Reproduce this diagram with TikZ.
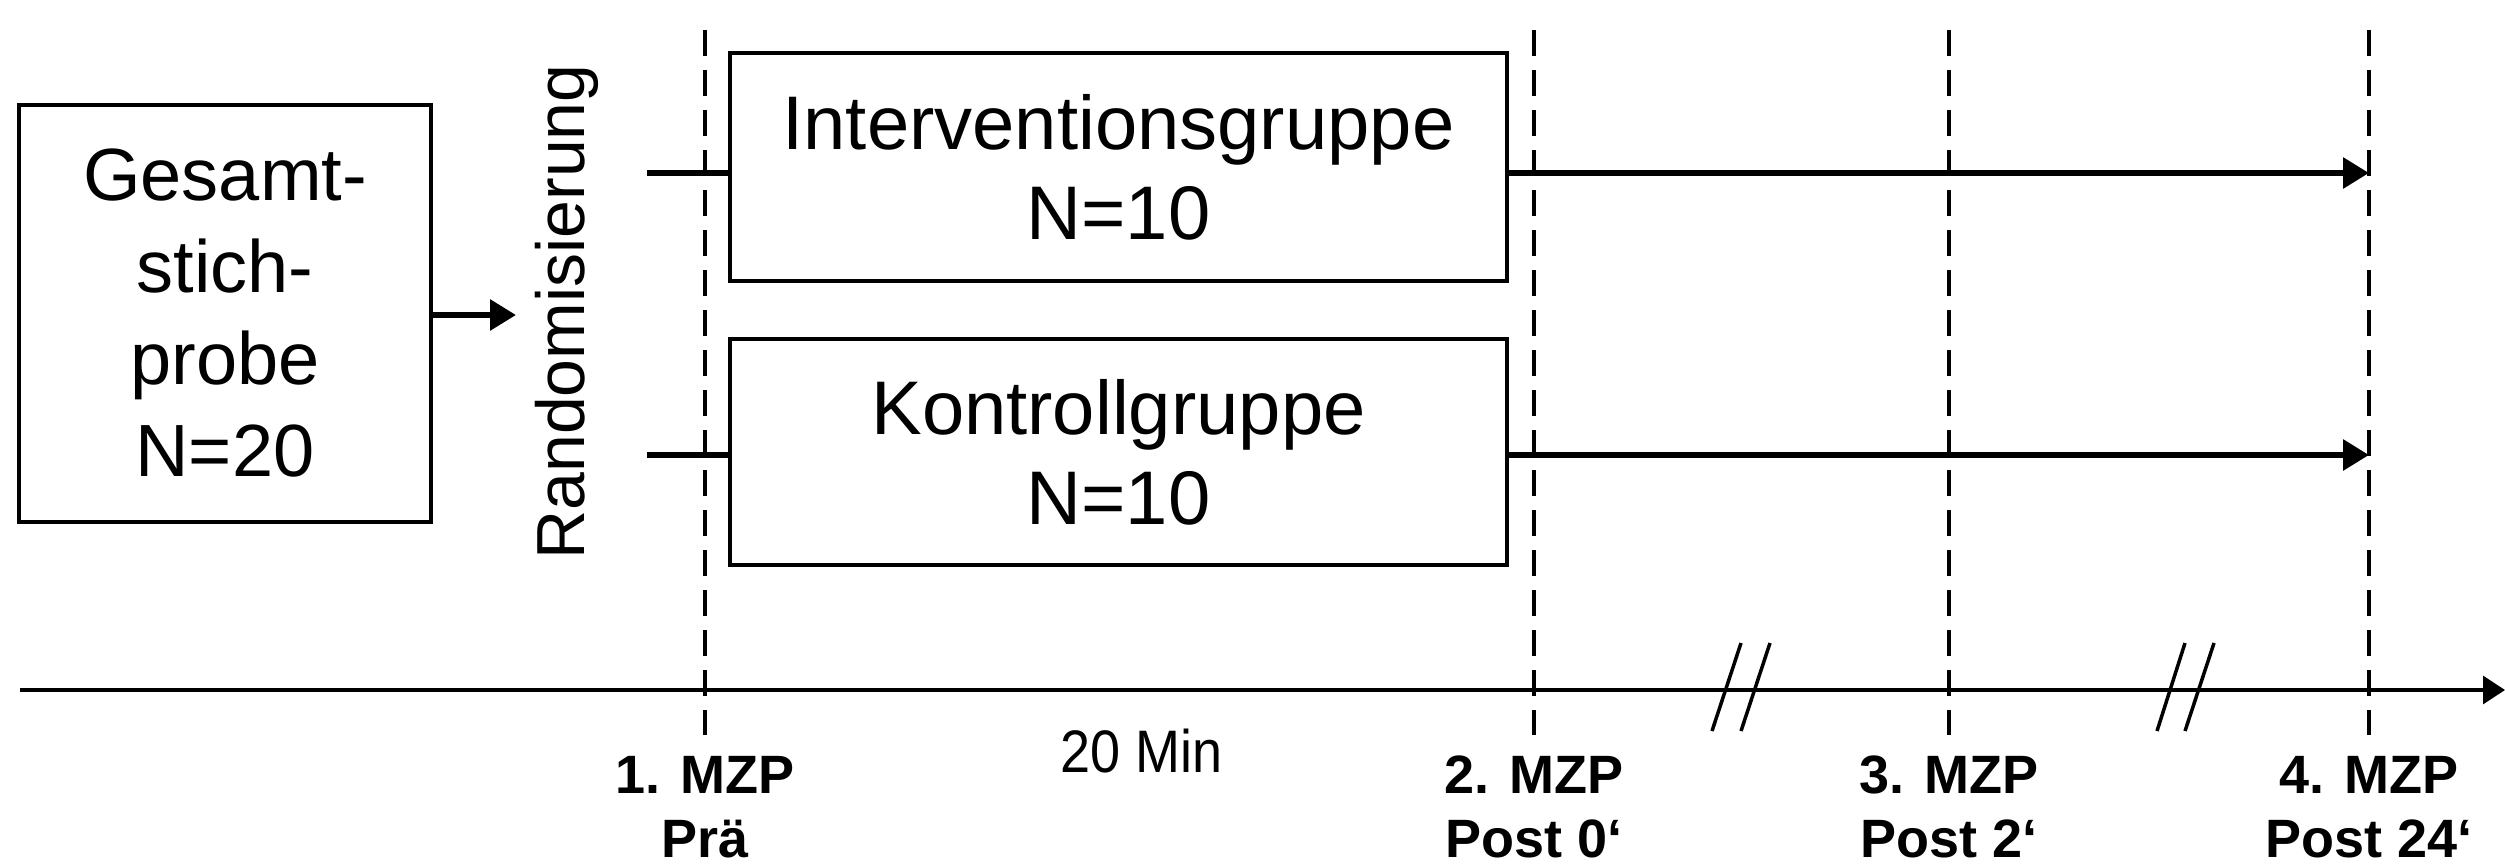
\documentclass[tikz,border=0pt]{standalone}
\usepackage{fontspec}
\setmainfont{Liberation Sans}
\usetikzlibrary{arrows.meta}
\begin{document}
\begin{tikzpicture}[x=1pt,y=-1pt,
  box/.style={draw,line width=3.2pt,inner sep=0pt,align=center},
  boxtext/.style={font=\fontsize{74}{92}\selectfont},
  grouptext/.style={font=\fontsize{76}{90}\selectfont},
  mzp/.style={font=\fontsize{54}{64}\selectfont\bfseries,align=center,inner sep=0pt},
  vline/.style={line width=3.2pt,dash pattern=on 26pt off 14pt},
  flow/.style={line width=6pt,-{Triangle[length=26pt,width=30pt]}},
  stub/.style={line width=6pt},
  axisline/.style={line width=3.2pt,-{Triangle[length=22pt,width=28pt]}},
  brk/.style={line width=3.5pt}]
\useasboundingbox (0,0) rectangle (2505,864);
% boxes
\node[box,boxtext,minimum width=412pt,minimum height=417pt] (gesamt) at (225,313.5) {Gesamt-\\stich-\\probe\\N=20};
\node[box,grouptext,minimum width=777pt,minimum height=228pt] (int) at (1118.5,167) {Interventionsgruppe\\N=10};
\node[box,grouptext,minimum width=777pt,minimum height=226pt] (kon) at (1118.5,452) {Kontrollgruppe\\N=10};
\node[rotate=90,font=\fontsize{68}{80}\selectfont,inner sep=0pt] (rand) at (567,312) {Randomisierung};
% dashed time lines
\foreach \n/\x in {d1/705,d2/1534,d3/1949,d4/2369}{
  \coordinate (\n t) at (\x,30);
  \coordinate (\n b) at (\x,735);
  \draw[vline] (\n t) -- (\n b);
}
% arrow from sample
\coordinate (ra) at (516,315);
\draw[flow] (gesamt.east |- ra) -- (ra);
% stubs and flows
\coordinate (s1) at (647,173);
\coordinate (s2) at (647,455);
\draw[stub] (s1) -- (s1 -| int.west);
\draw[stub] (s2) -- (s2 -| kon.west);
\draw[flow] (int.east |- s1) -- (s1 -| d4t);
\draw[flow] (kon.east |- s2) -- (s2 -| d4t);
% axis
\coordinate (a0) at (20,690);
\coordinate (a1) at (2505,690);
\draw[axisline] (a0) -- (a1);
% breaks
\coordinate (b1a) at (1712,731); \coordinate (b1b) at (1741,643);
\coordinate (b1c) at (1741,731); \coordinate (b1d) at (1770,643);
\coordinate (b2a) at (2157,731); \coordinate (b2b) at (2185,643);
\coordinate (b2c) at (2185,731); \coordinate (b2d) at (2214,643);
\draw[brk] (b1a) -- (b1b);
\draw[brk] (b1c) -- (b1d);
\draw[brk] (b2a) -- (b2b);
\draw[brk] (b2c) -- (b2d);
% labels
\node[mzp] (l1) at (705,807) {1. MZP\\Prä};
\node[mzp] (l2) at (1534,807) {2. MZP\\Post 0‘};
\node[mzp] (l3) at (1949,807) {3. MZP\\Post 2‘};
\node[mzp] (l4) at (2369,807) {4. MZP\\Post 24‘};
\node[font=\fontsize{60}{68}\selectfont,inner sep=0pt,xscale=0.9] (min) at (1142,751) {20 Min};
\end{tikzpicture}
\end{document}
